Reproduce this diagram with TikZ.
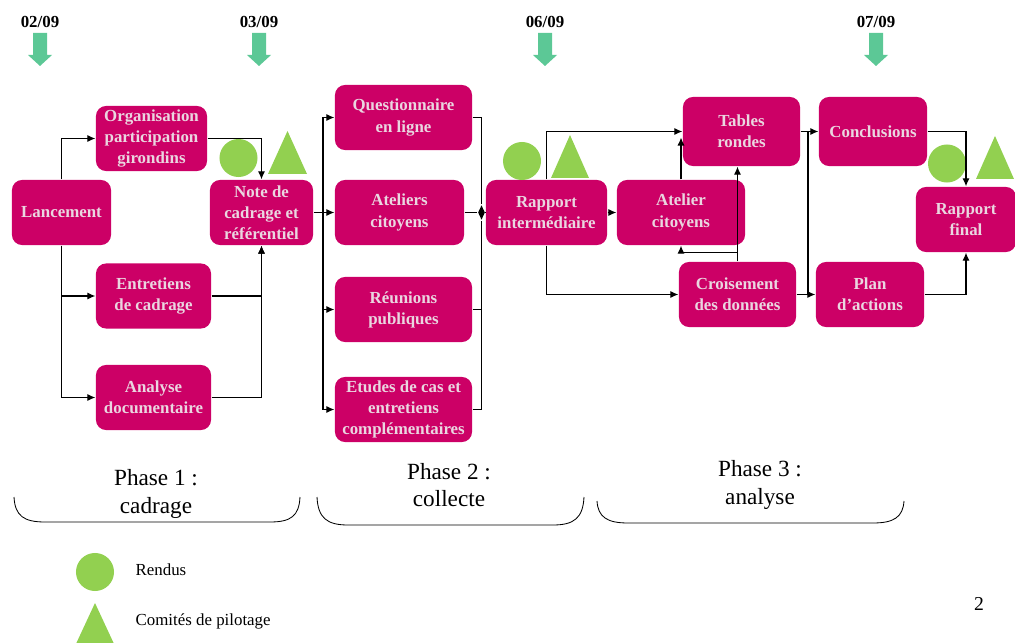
\documentclass[tikz,border=0pt]{standalone}
\usepackage{fontspec}
\setmainfont{Liberation Serif}
\usepackage{tikz}
\usetikzlibrary{arrows.meta}
\usetikzlibrary{calc}
\usetikzlibrary{shapes.geometric}

\definecolor{taskfill}{RGB}{204,0,102}
\definecolor{tasktext}{RGB}{234,214,224}
\definecolor{cuegreen}{RGB}{92,200,150}
\definecolor{markgreen}{RGB}{146,208,80}

\begin{document}
\begin{tikzpicture}[ x = 0.025cm, y = -0.025cm
                     , >={Latex[width=1.8mm, length=2mm]}
                     , line width = 0.9pt
                     , every node/.style = { align = center
                                         , inner sep = 0pt }
                     ]
  \useasboundingbox (0,0) rectangle (1015,643);

  %%
  %% Nodes
  %%
  \tikzset{ task/.style={ rectangle
                        , rounded corners = 0.25cm
                        , fill = taskfill
                        , text = tasktext
                        , font = \fontsize{12}{15}\selectfont\bfseries
                        , minimum height = 1.625cm }
          , rendu/.style={circle, fill=markgreen, minimum size=0.95cm}
          , copil/.style={fill=markgreen}
          , cue/.style={fill=cuegreen}
          , date/.style={font=\fontsize{12}{14}\selectfont\bfseries}
          , phase/.style={font=\fontsize{16.5}{19.5}\selectfont}
          , legend/.style={font=\fontsize{12}{14}\selectfont, anchor=west}
          , merge/.style={diamond, fill=black, minimum width=0.18cm, minimum height=0.37cm}
          }

  % Phase 1
  \node (lanc) [task, minimum width=2.475cm] at (61.5,212.5) {Lancement};
  \node (orga) [task, minimum width=2.775cm] at (151.5,138.5) {Organisation\\participation\\girondins};
  \node (entr) [task, minimum width=2.875cm] at (153.5,296) {Entretiens\\de cadrage};
  \node (anal) [task, minimum width=2.875cm] at (153.5,397.5) {Analyse\\documentaire};
  \node (note) [task, minimum width=2.575cm] at (261.5,212.5) {Note de\\cadrage et\\référentiel};
  % Phase 2
  \node (quest) [task, minimum width=3.425cm] at (403.5,117.5) {Questionnaire\\en ligne};
  \node (atel) [task, minimum width=3.225cm] at (399.5,212.5) {Ateliers\\citoyens};
  \node (reun) [task, minimum width=3.425cm] at (403.5,309.5) {Réunions\\publiques};
  \node (etud) [task, minimum width=3.425cm] at (403.5,409.5) {Etudes de cas et\\entretiens\\complémentaires};
  \node (rapp) [task, minimum width=3.025cm] at (546.5,212.5) {Rapport\\intermédiaire};
  % Phase 3
  \node (atlc) [task, minimum width=3.2cm] at (681,212.5) {Atelier\\citoyens};
  \node (tabl) [task, minimum width=2.925cm, minimum height=1.725cm] at (741.5,131.5) {Tables\\rondes};
  \node (crois) [task, minimum width=2.925cm] at (737.5,294.5) {Croisement\\des données};
  \node (concl) [task, minimum width=2.7cm, minimum height=1.725cm] at (873,131.5) {Conclusions};
  \node (plan) [task, minimum width=2.7cm] at (870,294.5) {Plan\\d’actions};
  \node (final) [task, minimum width=2.5cm] at (966,219.5) {Rapport\\final};

  % Dates
  \foreach \x/\dd in {40/02, 259/03, 545/06, 876/07} {
    \node (date\dd) [date] at (\x,22) {\dd/09};
    \fill[cue] (\x-7,33) -- (\x+7,33) -- (\x+7,55) -- (\x+12,55) -- (\x,66)
               -- (\x-12,55) -- (\x-7,55) -- cycle;
  }

  % Rendus and comites
  \node (rend1) [rendu] at (238.5,158) {};
  \node (rend2) [rendu] at (522,161) {};
  \node (rend3) [rendu] at (947,163.5) {};
  \fill[copil] (268,174) -- (287.5,131) -- (307,174) -- cycle;
  \fill[copil] (551,178) -- (570,135) -- (589,178) -- cycle;
  \fill[copil] (976,179) -- (995,136) -- (1014,179) -- cycle;

  %%
  %% Relationship between nodes (arrows)
  %%
  % Phase 1.
  \draw[->] (lanc.north) |- (orga.west);
  \draw[->] (lanc.south) |- (entr.west);
  \draw[->] (lanc.south) |- (anal.west);
  \draw[->] (orga.east) -| (note.north);
  \draw[->] (entr.east) -| (note.south);
  \draw[->] (anal.east) -| (note.south);
  % Phase 2.
  \coordinate (split) at (323,212.5);
  \draw[->] (note.east) -- (atel.west);
  \draw[->] (split) |- (quest.west);
  \draw[->] (split) |- (reun.west);
  \draw[->] (split) |- (etud.west);
  \node (join) [merge] at (481.5,212.5) {};
  \draw (quest.east) -| (join);
  \draw (reun.east) -| (join);
  \draw (etud.east) -| (join);
  \draw (atel.east) -- (join);
  \draw (join) -- (rapp.west);
  % Phase 3.
  \draw[->] (rapp.north) |- (tabl.west);
  \draw[->] (rapp.east) -- (atlc.west);
  \draw[->] (rapp.south) |- (crois.west);
  \draw[->, shorten >=0.15cm] (atlc.north) -- (atlc.north |- tabl.west);
  \coordinate (fork) at ($(crois.north)+(0,-9)$);
  \draw[->] (crois.north) -- (crois.north |- tabl.south);
  \draw[->] (fork) -| (atlc.south);
  \coordinate (bust) at (808,131.5);
  \coordinate (busb) at (808,294.5);
  \draw (tabl.east) -- (bust) -- (busb);
  \draw (crois.east) -- (busb);
  \draw[->] (bust) -- (concl.west);
  \draw[->] (busb) -- (plan.west);
  \draw[->] (concl.east) -| (final.north);
  \draw[->] (plan.east) -| (final.south);

  %%
  %% Phases
  %%
  \node (ph1) [phase] at (156,494) {Phase 1 :\\cadrage};
  \node (ph2) [phase] at (449,485) {Phase 2 :\\collecte};
  \node (ph3) [phase] at (760,485) {Phase 3 :\\analyse};
  \draw[line width=0.6pt] (14,497) .. controls (15,516) and (24,522) .. (45,522)
        -- (270,522) .. controls (291,522) and (299,516) .. (300,497);
  \draw[line width=0.6pt] (317,497) .. controls (318,518) and (327,525) .. (348,525)
        -- (553,525) .. controls (574,525) and (583,518) .. (584,497);
  \draw[line width=0.6pt] (597,501) .. controls (598,517) and (607,523) .. (628,523)
        -- (873,523) .. controls (894,523) and (903,517) .. (904,501);

  %%
  %% Legend
  %%
  \node (lrend) [rendu] at (95,572) {};
  \node (trend) [legend] at (135,570) {Rendus};
  \fill[copil] (75,646) -- (95,603) -- (115,646) -- cycle;
  \node (tcopil) [legend] at (135,621) {Comités de pilotage};
  \node (page) [font=\fontsize{14}{16}\selectfont] at (979,604) {2};
\end{tikzpicture}
\end{document}
